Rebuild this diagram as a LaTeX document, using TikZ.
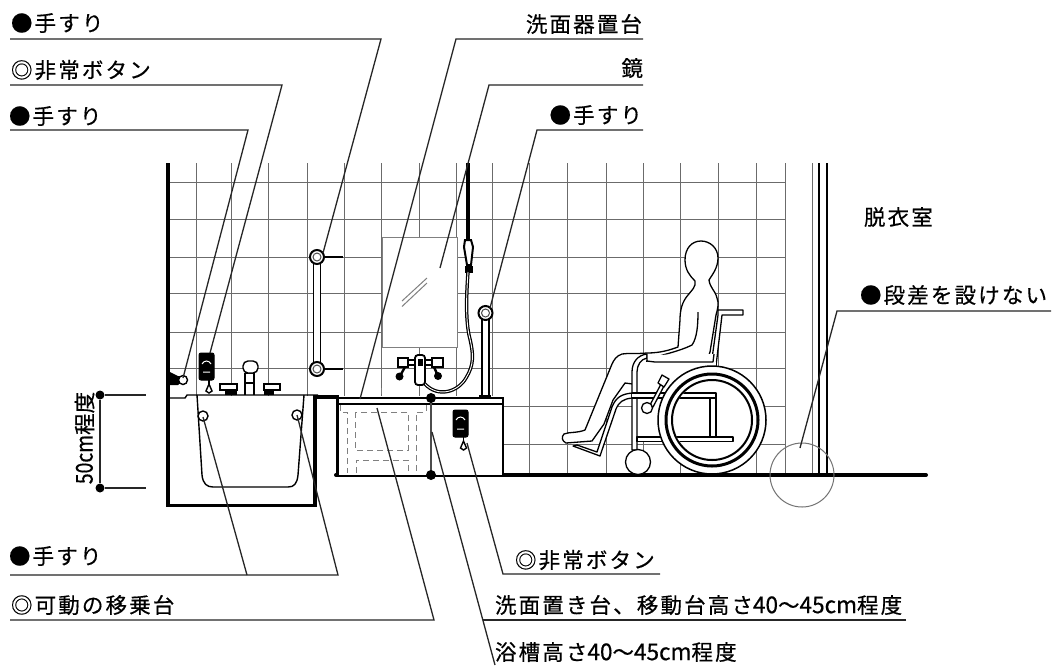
\documentclass[tikz,border=0pt]{standalone}
\usepackage{fontspec}
\usepackage{graphicx}
\setmainfont[LetterSpace=10,RawFeature={embolden=0.5}]{Noto Sans CJK JP}
\newfontfamily\digfont[RawFeature={embolden=0.5}]{Noto Sans CJK JP}
\newcommand{\dg}[1]{\scalebox{1.05}[1.08]{\digfont #1}}
\newcommand{\dgn}[1]{\scalebox{0.9}[1.08]{\digfont #1}}
\tikzset{
  lbl/.style={inner sep=0pt,outer sep=0pt,font=\fontsize{21.5pt}{24pt}\selectfont,text=black},
  leader/.style={draw=black!85,line width=1.3pt},
  gridln/.style={draw=black!58,line width=1pt},
  wall/.style={draw=black,line width=3.6pt,line join=miter},
  thin1/.style={draw=black,line width=1.4pt},
  dashg/.style={draw=black!50,line width=1pt,dash pattern=on 6pt off 4pt},
  dimdot/.style={fill=black,circle,inner sep=0pt,minimum size=9pt},
  ch/.style={draw=black,line width=1.3pt,fill=white,line join=round}
}
\begin{document}
\begin{tikzpicture}[x=1pt,y=-1pt]
\useasboundingbox (0,0) rectangle (1059,665);
\fill[white] (0,0) rectangle (1059,665);
% grid
\foreach \x in {196,231,268,307,344,381,419,456,492}{\draw[gridln] (\x,163) -- (\x,396);}
\foreach \x in {529,567,606,643,680,718,756,785,812}{\draw[gridln] (\x,163) -- (\x,475);}
\foreach \y in {182,219,257,293,332,368}{\draw[gridln] (168,\y) -- (785,\y);}
\foreach \y in {406,444}{\draw[gridln] (503,\y) -- (785,\y);}
% walls
\draw[wall] (168,163) -- (168,505.5) -- (315,505.5) -- (315,397) -- (337.5,397) -- (337.5,475);
\draw[black,line width=2pt] (819,163) -- (819,475) (827,163) -- (827,475);
\draw[black,line width=4pt,line cap=round] (336,475) -- (926,475);
% mirror
\draw[fill=white,draw=black!50,line width=1pt] (382,237) rectangle (457,347);
\draw[black!50,line width=1pt] (402,301) -- (427,278) (402,306.5) -- (427,283);
% tub
\fill[white] (170,396) rectangle (313,504);
\draw[thin1] (169,398) -- (185,398) -- (187,395) -- (318,395);
\draw[thin1] (197,395) -- (202,475) .. controls (203,484) and (207,487) .. (213,487) -- (288,487) .. controls (294,487) and (297,484) .. (298,475) -- (304,395);
\draw[thin1,fill=white] (203,416) circle[radius=5pt];
\draw[thin1,fill=white] (297,415) circle[radius=5pt];
% dimension
\node[dimdot] (dimA) at (100,395) {};
\node[dimdot] (dimB) at (100,488) {};
\coordinate (dimAe) at (146,395);
\coordinate (dimBe) at (146,488);
\draw[leader] (dimA) -- (dimB);
\draw[leader] (dimA) -- (dimAe);
\draw[leader] (dimB) -- (dimBe);
\node[lbl,rotate=90] (t50) at (84.5,438) {\dgn{50cm}{\digfont 程度}};
% tub faucet
\draw[line width=1.6pt] (245,373) -- (245,395) (254,373) -- (254,395) (245,373) -- (254,373) (245,383) -- (254,383);
\draw[thin1,fill=white,rounded corners=5pt] (243,373) -- (243,361) -- (258,361) -- (258,373) -- cycle;
\draw[thin1,fill=white] (220,384) -- (237,384) -- (237,390) -- (220,390) -- cycle;
\draw[thin1,fill=white] (264,384) -- (280,384) -- (280,390) -- (264,390) -- cycle;
\fill[black] (225,390) rectangle (237,395);
\fill[black] (264,390) rectangle (274,395);
% left wall rail
\fill[black] (170,372) -- (178,376) -- (186,378) -- (178,385) -- (170,385) -- cycle;
\draw[thin1,fill=white] (183,380) circle[radius=4.5pt];
% button left
\draw[black,fill=black,rounded corners=2pt,line width=1pt] (199,353) rectangle (214,380);
\draw[white,line width=1pt] (202,364) .. controls (204,360) and (209,360) .. (211,364) (203,372) -- (210,372);
\draw[thin1] (209,380) -- (209,384);
\draw[thin1,fill=white] (209,384) -- (212,391) -- (209,393) -- (206,391) -- cycle;
% grab bar left
\draw[black,line width=1.6pt,fill=white] (313.5,257) rectangle (320.5,369);
\draw[black,line width=2pt,fill=white] (317,257) circle[radius=7pt];
\draw[black,line width=2pt,fill=white] (317,369) circle[radius=7pt];
\draw[black!70,line width=1pt] (317,257) circle[radius=4pt];
\draw[black!70,line width=1pt] (317,369) circle[radius=4pt];
\draw[black,line width=1.2pt] (324,257) -- (343,257) (324,369) -- (343,369);
% counter
\fill[white] (339,397) rectangle (503,475);
\draw[wall,line width=2.6pt] (338,398) -- (503,398) -- (503,475);
\draw[black,line width=1.3pt] (339,404) -- (503,404);
\draw[black!70,line width=1.3pt] (431,398) -- (431,475);
\draw[dashg] (340,405) -- (340,412) -- (347,412) -- (347,473);
\draw[dashg] (355,412) rectangle (408,450);
\draw[dashg] (356,473) -- (356,460) -- (408,460) -- (408,473);
\draw[dashg] (426,405) -- (426,412) -- (416,412) -- (416,473);
\draw[dashg] (381,388) -- (381,396);
\node[dimdot,minimum size=10pt] (dotC) at (431,398) {};
\node[dimdot,minimum size=10pt] (dotD) at (431,475) {};
% button counter
\draw[black,fill=black,rounded corners=2pt,line width=1pt] (453,410) rectangle (468,437);
\draw[white,line width=1pt] (456,420) .. controls (458,416) and (463,416) .. (465,420) (457,429) -- (464,429);
\draw[thin1] (463.5,437) -- (463.5,441);
\draw[thin1,fill=white] (463.5,441) -- (466.5,448) -- (463.5,450) -- (460.5,448) -- cycle;
% grab bar right
\draw[black,line width=1.6pt,fill=white] (482,313) rectangle (489,396);
\draw[black,line width=2pt,fill=white] (485.5,313) circle[radius=7pt];
\draw[black!70,line width=1pt] (485.5,313) circle[radius=4pt];
\fill[black] (479,395) rectangle (491,398);
% shower
\draw[black,line width=3.4pt] (468,163) -- (468,240);
\draw[black!60,line width=1pt] (456,219) -- (466,219);
\draw[black,line width=2pt,fill=white] (465,240) -- (471,240) -- (473,247) -- (471,265) -- (467,265) -- (464,247) -- cycle;
\fill[black] (464.5,266) rectangle (472.5,273);
\draw[black,line width=3.4pt] (468,272) .. controls (466,300) and (466,320) .. (469,335) .. controls (474,355) and (474,365) .. (466,378) .. controls (458,392) and (438,398) .. (425,384);
\draw[white,line width=0.9pt] (468,272) .. controls (466,300) and (466,320) .. (469,335) .. controls (474,355) and (474,365) .. (466,378) .. controls (458,392) and (438,398) .. (425,384);
% wash faucet
\draw[thin1,fill=white] (408,360) rectangle (432,365);
\draw[black,line width=1.8pt,fill=white] (398,358) rectangle (408,367);
\draw[black,line width=1.8pt,fill=white] (432,358) rectangle (443,367);
\draw[black,line width=2.4pt] (405,367) -- (400,376) (434,367) -- (438,376);
\fill[black] (399.5,376.5) circle[radius=4pt];
\fill[black] (438,376) circle[radius=4pt];
\draw[black,line width=1.8pt,fill=white,rounded corners=3pt] (415,355) rectangle (425,385);
\fill[black] (417.5,359) rectangle (422.5,366);
% wheelchair back parts
\draw[ch] (722,310) -- (743,310) -- (743,315) -- (722,315) -- (716,366) -- (711,366) -- (718,315) -- (718,310) -- cycle;
% person
\draw[ch] (701,241) .. controls (692,241) and (685,248) .. (685,260) .. controls (685,270) and (690,276) .. (695,281)
 .. controls (696,287) and (692,290) .. (688,295) .. controls (682,302) and (680,310) .. (680,320) -- (678,347)
 .. controls (670,350) and (660,353) .. (647,353) .. controls (635,354) and (628,353) .. (622,354) .. controls (616,356) and (614,360) .. (612,364)
 -- (585,430) .. controls (578,433) and (568,432) .. (564,434) .. controls (561,437) and (562,441) .. (566,443) -- (592,441)
 -- (604,424) -- (613,400) -- (625,383) -- (640,385) -- (680,390) -- (707,360) -- (710,352) -- (716,315) .. controls (718,308) and (719,303) .. (717,298)
 .. controls (715,290) and (710,288) .. (709,280) .. controls (712,275) and (718,268) .. (718,258) .. controls (718,248) and (710,241) .. (701,241) -- cycle;
\draw[black,line width=1.3pt,fill=white] (698,312) .. controls (698,325) and (697,338) .. (692,345) .. controls (680,351) and (665,354) .. (653,358) .. controls (647,359) and (645,362) .. (647,366) .. controls (650,372) and (656,372) .. (660,368) .. controls (663,365) and (667,363) .. (680,360) -- (707,358);
% footplate and leg frame
\draw[ch] (573,446) -- (577,445) -- (597,452) -- (612,407) .. controls (616,397) and (622,394) .. (632,393) -- (632,398) .. controls (623,399) and (619,402) .. (616,409) -- (600,456) -- cycle;
% frame
\fill[white] (637,362) rectangle (716,437);
\draw[ch] (632,450) -- (632,372) .. controls (632,362) and (638,355) .. (647,354) -- (647,358) .. controls (641,359) and (637,365) .. (637,372) -- (637,450) -- cycle;
\draw[ch] (647,355) -- (647,361) -- (655,362) -- (713,362) -- (714,354);
\draw[ch] (632,393) -- (716,393) -- (716,398) -- (632,398);
\draw[ch] (637,437) -- (733,437) -- (733,441.5) -- (637,441.5) -- cycle;
\draw[ch] (710,380) rectangle (716,437);
% wheel
\draw[black,line width=1.5pt,fill=white] (712,420) circle[radius=54pt];
\draw[black,line width=3pt] (712,420) circle[radius=46pt];
\draw[black,line width=2pt] (712,420) circle[radius=40pt];
\begin{scope}
\clip (712,420) circle[radius=39pt];
\draw[ch] (622,393) -- (716,393) -- (716,398) -- (622,398);
\draw[ch] (637,437) -- (733,437) -- (733,441.5) -- (637,441.5) -- cycle;
\draw[ch] (710,398) rectangle (716,437);
\end{scope}
% brake
\draw[ch] (650,405) -- (661,384) -- (664,386) -- (653,407) -- cycle;
\draw[ch] (662,375) -- (669,379) -- (664,387) -- (658,383) -- cycle;
\draw[ch] (647,408) circle[radius=5.5pt];
% caster
\draw[ch] (638,462) circle[radius=12.5pt];
% big circle
\node[draw=black!55,line width=1pt,circle,minimum size=64pt,inner sep=0pt] (bigc) at (802,475) {};
% label lines
\coordinate (aL) at (10,39);\coordinate (aB) at (381,39);\coordinate (aE) at (323,253);
\coordinate (bL) at (10,85);\coordinate (bB) at (282,85);\coordinate (bE) at (210,353);
\coordinate (cL) at (10,130);\coordinate (cB) at (248,130);\coordinate (cE) at (183,378);
\coordinate (dR) at (643,39);\coordinate (dB) at (456,39);\coordinate (dE) at (360,399);
\coordinate (eR) at (643,85);\coordinate (eB) at (489,85);\coordinate (eE) at (440,268);
\coordinate (fR) at (643,130);\coordinate (fB) at (537,130);\coordinate (fE) at (490,308);
\coordinate (gR) at (1051,311);\coordinate (gB) at (837,311);\coordinate (gE) at (800,448);
\coordinate (hL) at (10,575);\coordinate (hB) at (338,575);\coordinate (hE) at (297,415);
\coordinate (hM) at (247,575);\coordinate (hF) at (203,417);
\coordinate (iL) at (10,620);\coordinate (iB) at (434,620);\coordinate (iE) at (377,408);
\coordinate (jR) at (660,574);\coordinate (jB) at (503,574);\coordinate (jE) at (467,443);
\coordinate (kR) at (906,620);\coordinate (kB) at (483,620);
\coordinate (lS) at (432,432);\coordinate (lE) at (495,665);
\draw[leader] (aL) -- (aB) -- (aE);
\draw[leader] (bL) -- (bB) -- (bE);
\draw[leader] (cL) -- (cB) -- (cE);
\draw[leader] (dR) -- (dB) -- (dE);
\draw[leader] (eR) -- (eB) -- (eE);
\draw[leader] (fR) -- (fB) -- (fE);
\draw[leader] (gR) -- (gB) -- (gE);
\draw[leader] (hL) -- (hB) -- (hE);
\draw[leader] (hM) -- (hF);
\draw[leader] (iL) -- (iB) -- (iE);
\draw[leader] (jR) -- (jB) -- (jE);
\draw[leader] (kR) -- (kB);
\draw[leader] (lS) -- (lE);
% labels
\node[lbl,anchor=west] (ta) at (11,23) {●手すり};
\node[lbl,anchor=west] (tb) at (11,70) {◎非常ボタン};
\node[lbl,anchor=west] (tc) at (9,116) {●手すり};
\node[lbl,anchor=east] (td) at (642,24) {洗面器置台};
\node[lbl,anchor=east] (te) at (643,68) {鏡};
\node[lbl,anchor=east] (tf) at (642,115) {●手すり};
\node[lbl,anchor=west] (tg) at (864,217) {脱衣室};
\node[lbl,anchor=west] (th) at (860,295) {●段差を設けない};
\node[lbl,anchor=west] (ti) at (515,560) {◎非常ボタン};
\node[lbl,anchor=west] (tj) at (495,605) {洗面置き台、移動台高さ\dg{40}〜\dg{45cm}程度};
\node[lbl,anchor=west] (tk) at (495,652) {浴槽高さ\dg{40}〜\dg{45cm}程度};
\node[lbl,anchor=west] (tl) at (9,556) {●手すり};
\node[lbl,anchor=west] (tm) at (11,605) {◎可動の移乗台};
\end{tikzpicture}
\end{document}
